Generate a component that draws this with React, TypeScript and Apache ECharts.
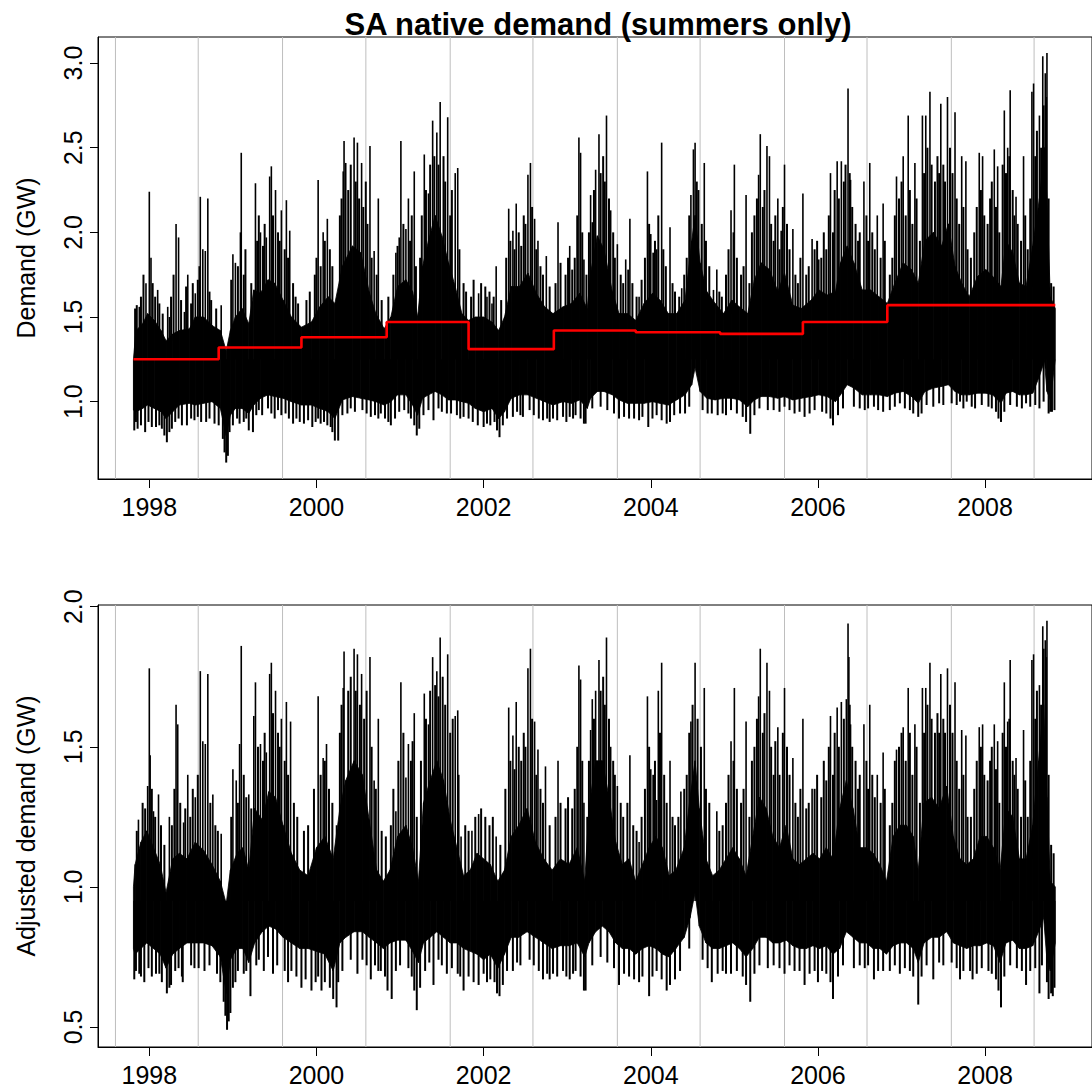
import React, { useEffect, useRef } from "react";
import * as echarts from "echarts";

// ---------- axes ----------
const X_MIN = 1997.386;
const X_MAX = 2009.279;
const yearTicks = [1998, 2000, 2002, 2004, 2006, 2008];
const augustLines = [1997.595, 1998.585, 1999.594, 2000.591, 2001.6, 2002.59, 2003.6, 2004.59, 2005.6, 2006.587, 2007.596, 2008.586];
const topYTicks = [1.0, 1.5, 2.0, 2.5, 3.0];
const botYTicks = [0.5, 1.0, 1.5, 2.0];

// ---------- summer medians (red steps) ----------
const medianT = [1997.81, 1998.83, 1999.82, 2000.84, 2001.82, 2002.84, 2003.82, 2004.83, 2005.82, 2006.83, 2008.84];
const medianV = [1.25, 1.32, 1.38, 1.47, 1.31, 1.42, 1.41, 1.40, 1.47, 1.57, 1.57];

// ---------- top panel: dense core of demand ----------
const topBandT = [1997.81, 1997.84, 1997.92, 1997.98, 1998.06, 1998.14, 1998.2, 1998.28, 1998.36, 1998.48, 1998.55, 1998.65, 1998.75, 1998.85, 1998.92, 1998.97, 1999.03, 1999.11, 1999.19, 1999.25, 1999.33, 1999.42, 1999.5, 1999.6, 1999.7, 1999.82, 1999.94, 2000.04, 2000.14, 2000.22, 2000.31, 2000.43, 2000.53, 2000.63, 2000.71, 2000.81, 2000.89, 2000.97, 2001.07, 2001.15, 2001.21, 2001.27, 2001.34, 2001.42, 2001.5, 2001.58, 2001.66, 2001.74, 2001.82, 2001.9, 2002.0, 2002.1, 2002.18, 2002.25, 2002.33, 2002.43, 2002.53, 2002.63, 2002.73, 2002.83, 2002.95, 2003.05, 2003.15, 2003.24, 2003.28, 2003.36, 2003.44, 2003.54, 2003.62, 2003.72, 2003.82, 2003.92, 2004.02, 2004.11, 2004.21, 2004.31, 2004.41, 2004.49, 2004.53, 2004.59, 2004.67, 2004.77, 2004.87, 2004.97, 2005.06, 2005.16, 2005.24, 2005.32, 2005.42, 2005.52, 2005.6, 2005.7, 2005.8, 2005.92, 2006.01, 2006.11, 2006.21, 2006.27, 2006.35, 2006.43, 2006.53, 2006.63, 2006.73, 2006.83, 2006.92, 2007.02, 2007.12, 2007.2, 2007.28, 2007.38, 2007.48, 2007.56, 2007.64, 2007.72, 2007.81, 2007.91, 2008.01, 2008.09, 2008.19, 2008.25, 2008.33, 2008.41, 2008.49, 2008.57, 2008.65, 2008.71, 2008.74, 2008.78, 2008.84];
const topBandLo = [0.95, 0.94, 0.96, 0.98, 0.96, 0.94, 0.9, 0.94, 0.98, 0.99, 0.98, 0.99, 1.0, 0.96, 0.8, 0.92, 0.96, 0.96, 0.93, 0.98, 1.02, 1.04, 1.03, 1.02, 1.0, 0.98, 0.98, 0.96, 0.94, 0.9, 1.01, 1.03, 1.02, 1.01, 1.0, 0.98, 1.0, 1.04, 1.04, 0.98, 0.92, 1.02, 1.04, 1.06, 1.04, 1.01, 1.01, 1.0, 0.99, 0.96, 0.94, 0.96, 0.9, 0.94, 1.02, 1.04, 1.04, 1.02, 1.0, 0.98, 1.0, 0.99, 1.01, 0.96, 1.02, 1.06, 1.06, 1.04, 1.01, 0.99, 0.99, 0.99, 1.0, 0.99, 0.98, 1.01, 1.04, 1.1, 1.2, 1.06, 1.02, 1.01, 1.02, 1.02, 1.01, 0.97, 1.01, 1.03, 1.03, 1.02, 1.03, 1.01, 1.02, 1.03, 1.04, 1.03, 1.0, 1.04, 1.1, 1.08, 1.04, 1.04, 1.04, 1.03, 1.05, 1.06, 1.03, 0.99, 1.06, 1.08, 1.09, 1.1, 1.06, 1.04, 1.04, 1.05, 1.05, 1.04, 0.99, 1.05, 1.06, 1.04, 1.04, 1.05, 1.15, 1.24, 1.06, 1.01, 1.25];
const topBandHi = [1.25, 1.42, 1.46, 1.52, 1.48, 1.42, 1.36, 1.4, 1.42, 1.43, 1.5, 1.5, 1.45, 1.42, 1.3, 1.42, 1.5, 1.55, 1.46, 1.66, 1.64, 1.72, 1.7, 1.6, 1.5, 1.44, 1.47, 1.56, 1.62, 1.58, 1.8, 1.92, 1.88, 1.65, 1.52, 1.43, 1.5, 1.68, 1.72, 1.65, 1.5, 1.8, 1.95, 2.1, 1.98, 1.82, 1.68, 1.52, 1.48, 1.5, 1.5, 1.47, 1.42, 1.5, 1.68, 1.68, 1.76, 1.64, 1.56, 1.52, 1.56, 1.58, 1.64, 1.55, 1.76, 1.98, 1.9, 1.65, 1.52, 1.52, 1.48, 1.58, 1.64, 1.6, 1.52, 1.52, 1.6, 1.95, 2.1, 1.82, 1.65, 1.58, 1.52, 1.6, 1.56, 1.52, 1.72, 1.82, 1.78, 1.65, 1.76, 1.57, 1.55, 1.6, 1.66, 1.63, 1.65, 1.82, 1.92, 1.82, 1.66, 1.66, 1.62, 1.58, 1.7, 1.82, 1.78, 1.7, 1.95, 2.0, 1.92, 2.05, 1.8, 1.7, 1.62, 1.74, 1.78, 1.74, 1.68, 1.95, 1.88, 1.7, 1.68, 1.92, 2.2, 2.5, 2.2, 1.62, 1.55];

// top panel: tallest upward spikes (peak demand)
const topUpT = [1997.88, 1997.96, 1998.0, 1998.02, 1998.1, 1998.22, 1998.24, 1998.32, 1998.35, 1998.42, 1998.46, 1998.55, 1998.61, 1998.64, 1998.67, 1998.7, 1998.86, 1999.0, 1999.03, 1999.09, 1999.1, 1999.27, 1999.33, 1999.4, 1999.44, 1999.46, 1999.51, 1999.58, 1999.64, 1999.68, 2000.02, 2000.08, 2000.13, 2000.32, 2000.33, 2000.35, 2000.45, 2000.49, 2000.54, 2000.64, 2000.69, 2000.74, 2000.95, 2000.99, 2001.01, 2001.07, 2001.1, 2001.17, 2001.29, 2001.34, 2001.39, 2001.44, 2001.48, 2001.57, 2001.66, 2001.69, 2001.94, 2002.04, 2002.1, 2002.15, 2002.3, 2002.35, 2002.39, 2002.53, 2002.56, 2002.61, 2002.65, 2002.75, 2002.89, 2003.03, 2003.14, 2003.16, 2003.2, 2003.28, 2003.3, 2003.34, 2003.38, 2003.47, 2003.52, 2003.6, 2003.7, 2003.75, 2003.86, 2003.96, 2004.0, 2004.07, 2004.13, 2004.23, 2004.37, 2004.48, 2004.51, 2004.53, 2004.64, 2004.75, 2004.79, 2004.96, 2005.0, 2005.14, 2005.29, 2005.31, 2005.39, 2005.42, 2005.52, 2005.56, 2005.6, 2005.7, 2005.82, 2005.93, 2006.01, 2006.15, 2006.23, 2006.28, 2006.36, 2006.39, 2006.55, 2006.62, 2006.71, 2006.78, 2006.94, 2007.02, 2007.08, 2007.16, 2007.25, 2007.29, 2007.34, 2007.47, 2007.55, 2007.64, 2007.72, 2007.77, 2007.93, 2007.97, 2008.11, 2008.15, 2008.23, 2008.27, 2008.3, 2008.37, 2008.46, 2008.56, 2008.58, 2008.65, 2008.69, 2008.72, 2008.74];
const topUpV = [1.56, 1.7, 2.24, 1.85, 1.66, 1.56, 1.5, 2.05, 1.97, 1.53, 1.75, 1.64, 2.21, 1.9, 1.89, 2.2, 1.57, 1.87, 1.82, 2.0, 2.47, 2.29, 2.0, 1.97, 2.33, 2.39, 2.25, 2.13, 2.19, 2.01, 2.31, 2.0, 2.08, 2.36, 2.54, 2.41, 2.56, 2.53, 2.41, 2.51, 1.89, 2.2, 1.88, 1.97, 2.54, 2.02, 2.2, 2.36, 2.46, 2.23, 2.66, 2.59, 2.77, 2.68, 2.35, 2.38, 1.64, 1.62, 1.58, 1.8, 2.14, 2.01, 2.17, 2.34, 2.41, 2.08, 1.95, 1.86, 2.06, 1.92, 2.56, 2.47, 1.84, 2.22, 2.06, 2.37, 2.58, 2.69, 2.13, 1.93, 1.84, 2.08, 1.62, 2.36, 1.99, 1.9, 2.53, 2.03, 1.67, 2.22, 2.49, 2.53, 2.41, 1.66, 1.78, 2.13, 2.4, 2.22, 2.34, 2.58, 2.51, 2.45, 2.2, 2.01, 2.4, 2.02, 2.23, 1.96, 1.84, 2.35, 2.42, 2.42, 2.85, 2.31, 2.3, 2.41, 2.1, 2.17, 2.33, 2.45, 2.69, 2.41, 2.69, 2.69, 2.83, 2.76, 2.8, 2.71, 2.45, 2.42, 2.47, 2.45, 2.49, 2.39, 2.72, 2.5, 2.84, 2.21, 2.45, 2.83, 2.88, 2.69, 3.04, 2.94, 3.06];

// top panel: smaller upward spikes
const topMinorUpT = [1997.83, 1997.85, 1997.9, 1997.93, 1998.04, 1998.07, 1998.12, 1998.16, 1998.26, 1998.29, 1998.38, 1998.44, 1998.5, 1998.52, 1998.58, 1998.6, 1998.72, 1998.74, 1998.8, 1998.98, 1999.06, 1999.13, 1999.15, 1999.22, 1999.29, 1999.31, 1999.36, 1999.38, 1999.48, 1999.54, 1999.56, 1999.62, 1999.66, 1999.72, 1999.75, 1999.78, 1999.88, 1999.92, 1999.98, 2000.0, 2000.05, 2000.1, 2000.16, 2000.19, 2000.28, 2000.3, 2000.38, 2000.41, 2000.47, 2000.51, 2000.56, 2000.59, 2000.61, 2000.66, 2000.72, 2000.78, 2000.86, 2000.92, 2000.97, 2001.04, 2001.12, 2001.14, 2001.19, 2001.24, 2001.26, 2001.31, 2001.36, 2001.41, 2001.46, 2001.52, 2001.54, 2001.6, 2001.62, 2001.71, 2001.76, 2001.79, 2001.85, 2001.88, 2001.97, 2002.02, 2002.07, 2002.12, 2002.21, 2002.27, 2002.32, 2002.37, 2002.42, 2002.45, 2002.48, 2002.5, 2002.58, 2002.63, 2002.68, 2002.71, 2002.79, 2002.86, 2002.92, 2002.98, 2003.01, 2003.06, 2003.09, 2003.12, 2003.18, 2003.23, 2003.26, 2003.32, 2003.4, 2003.43, 2003.45, 2003.5, 2003.55, 2003.57, 2003.64, 2003.67, 2003.73, 2003.78, 2003.83, 2003.89, 2003.93, 2003.98, 2004.03, 2004.05, 2004.09, 2004.15, 2004.18, 2004.26, 2004.29, 2004.34, 2004.4, 2004.43, 2004.46, 2004.55, 2004.57, 2004.61, 2004.66, 2004.7, 2004.82, 2004.85, 2004.9, 2004.93, 2004.99, 2005.03, 2005.08, 2005.11, 2005.18, 2005.21, 2005.24, 2005.27, 2005.34, 2005.36, 2005.44, 2005.47, 2005.49, 2005.54, 2005.58, 2005.63, 2005.66, 2005.73, 2005.76, 2005.79, 2005.86, 2005.89, 2005.96, 2005.99, 2006.04, 2006.07, 2006.1, 2006.13, 2006.18, 2006.2, 2006.25, 2006.31, 2006.33, 2006.38, 2006.41, 2006.45, 2006.48, 2006.5, 2006.58, 2006.6, 2006.65, 2006.68, 2006.75, 2006.8, 2006.86, 2006.89, 2006.92, 2006.97, 2007.0, 2007.05, 2007.1, 2007.13, 2007.18, 2007.22, 2007.27, 2007.31, 2007.36, 2007.4, 2007.43, 2007.45, 2007.5, 2007.52, 2007.58, 2007.61, 2007.66, 2007.69, 2007.74, 2007.79, 2007.83, 2007.87, 2007.9, 2007.95, 2007.99, 2008.03, 2008.06, 2008.08, 2008.13, 2008.17, 2008.21, 2008.25, 2008.29, 2008.33, 2008.35, 2008.39, 2008.43, 2008.48, 2008.51, 2008.54, 2008.6, 2008.62, 2008.67, 2008.7, 2008.73, 2008.76, 2008.79, 2008.82];
const topMinorUpV = [1.55, 1.57, 1.62, 1.75, 1.7, 1.62, 1.58, 1.52, 1.62, 1.75, 1.6, 1.68, 1.58, 1.7, 1.72, 1.8, 1.65, 1.6, 1.55, 1.72, 1.8, 1.75, 1.9, 1.7, 1.95, 2.1, 1.92, 2.05, 2.1, 2.0, 1.95, 1.9, 1.85, 1.7, 1.62, 1.58, 1.6, 1.65, 1.75, 1.85, 1.8, 1.95, 1.9, 1.8, 2.1, 2.2, 2.25, 2.4, 2.3, 2.2, 2.15, 2.3, 2.05, 1.85, 1.75, 1.6, 1.62, 1.75, 1.92, 2.05, 1.95, 2.1, 1.8, 1.85, 2.1, 2.25, 2.4, 2.45, 2.4, 2.45, 2.3, 2.1, 2.25, 1.9, 1.7, 1.65, 1.62, 1.72, 1.7, 1.68, 1.65, 1.62, 1.6, 1.85, 1.95, 1.9, 2.0, 1.92, 2.1, 2.05, 2.15, 1.9, 1.8, 1.75, 1.68, 1.7, 1.82, 1.75, 1.85, 1.78, 1.85, 2.1, 2.0, 1.75, 2.0, 2.25, 2.35, 2.45, 2.3, 2.2, 2.0, 1.85, 1.75, 1.7, 1.78, 1.7, 1.62, 1.72, 1.85, 2.05, 1.88, 1.95, 2.1, 1.9, 1.8, 1.7, 1.65, 1.62, 1.75, 1.85, 2.1, 2.3, 2.25, 2.05, 1.95, 1.8, 1.65, 1.62, 1.75, 1.9, 2.0, 1.85, 1.75, 1.8, 1.7, 2.0, 2.1, 2.2, 2.15, 2.25, 2.05, 1.95, 2.1, 1.9, 2.15, 2.05, 1.9, 1.75, 1.7, 1.85, 1.75, 1.8, 1.9, 1.95, 1.85, 2.0, 1.9, 2.1, 2.0, 2.25, 2.2, 2.3, 2.4, 2.35, 2.15, 2.05, 1.95, 2.0, 2.1, 1.95, 2.0, 1.9, 1.85, 1.95, 1.75, 1.85, 2.1, 2.2, 2.3, 2.1, 2.25, 2.05, 2.2, 1.95, 2.35, 2.5, 2.4, 2.3, 2.45, 2.35, 2.4, 2.3, 2.5, 2.35, 2.2, 2.05, 2.15, 1.9, 1.85, 2.0, 2.15, 2.25, 2.1, 2.05, 2.2, 2.3, 2.15, 2.0, 2.4, 2.35, 2.45, 2.25, 2.1, 2.05, 1.95, 2.1, 1.9, 2.2, 2.45, 2.6, 2.5, 2.75, 2.8, 2.2, 1.7, 1.68];

// top panel: downward spikes (low demand)
const topDnT = [1997.82, 1997.84, 1997.86, 1997.9, 1997.95, 1997.99, 1998.03, 1998.08, 1998.12, 1998.15, 1998.18, 1998.21, 1998.24, 1998.27, 1998.31, 1998.35, 1998.39, 1998.45, 1998.5, 1998.54, 1998.58, 1998.62, 1998.68, 1998.72, 1998.78, 1998.83, 1998.88, 1998.9, 1998.92, 1998.94, 1998.96, 1999.0, 1999.05, 1999.08, 1999.13, 1999.16, 1999.19, 1999.24, 1999.28, 1999.31, 1999.35, 1999.42, 1999.46, 1999.5, 1999.54, 1999.58, 1999.63, 1999.67, 1999.72, 1999.76, 1999.8, 1999.85, 1999.9, 1999.95, 1999.99, 2000.02, 2000.05, 2000.09, 2000.13, 2000.17, 2000.19, 2000.22, 2000.26, 2000.31, 2000.37, 2000.41, 2000.46, 2000.55, 2000.6, 2000.65, 2000.7, 2000.74, 2000.77, 2000.82, 2000.86, 2000.89, 2000.94, 2000.99, 2001.05, 2001.1, 2001.13, 2001.17, 2001.2, 2001.23, 2001.28, 2001.34, 2001.4, 2001.46, 2001.5, 2001.56, 2001.61, 2001.68, 2001.72, 2001.76, 2001.82, 2001.87, 2001.93, 2002.0, 2002.04, 2002.08, 2002.13, 2002.16, 2002.19, 2002.23, 2002.28, 2002.35, 2002.4, 2002.44, 2002.47, 2002.55, 2002.6, 2002.66, 2002.71, 2002.76, 2002.79, 2002.83, 2002.88, 2002.95, 2002.99, 2003.03, 2003.07, 2003.1, 2003.16, 2003.2, 2003.22, 2003.3, 2003.4, 2003.48, 2003.56, 2003.62, 2003.68, 2003.74, 2003.8, 2003.86, 2003.9, 2003.97, 2004.02, 2004.07, 2004.13, 2004.19, 2004.23, 2004.28, 2004.35, 2004.41, 2004.46, 2004.62, 2004.68, 2004.73, 2004.8, 2004.86, 2004.9, 2004.96, 2005.03, 2005.1, 2005.14, 2005.19, 2005.24, 2005.3, 2005.4, 2005.47, 2005.54, 2005.6, 2005.66, 2005.72, 2005.78, 2005.84, 2005.9, 2005.96, 2006.05, 2006.1, 2006.15, 2006.18, 2006.24, 2006.3, 2006.43, 2006.5, 2006.56, 2006.6, 2006.67, 2006.72, 2006.78, 2006.86, 2006.92, 2006.98, 2007.04, 2007.1, 2007.14, 2007.2, 2007.24, 2007.3, 2007.38, 2007.45, 2007.5, 2007.6, 2007.66, 2007.7, 2007.74, 2007.78, 2007.84, 2007.88, 2007.96, 2008.04, 2008.08, 2008.13, 2008.16, 2008.19, 2008.23, 2008.3, 2008.38, 2008.44, 2008.49, 2008.54, 2008.6, 2008.65, 2008.7, 2008.76, 2008.78, 2008.8, 2008.83];
const topDnV = [0.83, 0.88, 0.84, 0.86, 0.82, 0.88, 0.85, 0.85, 0.86, 0.84, 0.8, 0.76, 0.82, 0.84, 0.88, 0.9, 0.86, 0.86, 0.9, 0.89, 0.91, 0.88, 0.88, 0.9, 0.87, 0.86, 0.78, 0.7, 0.64, 0.68, 0.82, 0.86, 0.9, 0.87, 0.88, 0.9, 0.83, 0.82, 0.92, 0.95, 0.92, 0.96, 0.93, 0.9, 0.95, 0.92, 0.93, 0.9, 0.87, 0.9, 0.88, 0.87, 0.89, 0.85, 0.88, 0.9, 0.87, 0.88, 0.86, 0.85, 0.82, 0.77, 0.77, 0.92, 0.93, 0.96, 0.94, 0.95, 0.93, 0.91, 0.92, 0.9, 0.93, 0.9, 0.88, 0.86, 0.9, 0.94, 0.95, 0.93, 0.9, 0.86, 0.8, 0.84, 0.92, 0.95, 0.89, 0.96, 0.94, 0.93, 0.93, 0.92, 0.9, 0.91, 0.9, 0.88, 0.86, 0.85, 0.87, 0.86, 0.88, 0.83, 0.79, 0.86, 0.9, 0.91, 0.94, 0.92, 0.91, 0.95, 0.92, 0.9, 0.89, 0.9, 0.88, 0.9, 0.89, 0.91, 0.88, 0.91, 0.9, 0.92, 0.9, 0.87, 0.87, 0.96, 0.97, 0.95, 0.93, 0.9, 0.91, 0.9, 0.9, 0.89, 0.91, 0.85, 0.9, 0.92, 0.89, 0.87, 0.88, 0.92, 0.93, 0.93, 0.97, 0.95, 0.93, 0.93, 0.92, 0.93, 0.92, 0.95, 0.93, 0.91, 0.88, 0.81, 0.92, 0.96, 0.95, 0.95, 0.94, 0.97, 0.95, 0.93, 0.94, 0.91, 0.93, 0.95, 0.94, 0.93, 0.9, 0.86, 0.92, 0.96, 0.97, 0.96, 0.95, 0.96, 0.97, 0.95, 0.94, 0.95, 0.97, 0.99, 0.96, 0.95, 0.93, 0.91, 0.93, 0.98, 0.97, 0.99, 0.98, 0.99, 0.98, 1.0, 0.96, 1.0, 0.97, 0.96, 0.98, 0.97, 0.96, 0.94, 0.9, 0.88, 0.94, 0.98, 0.97, 0.96, 0.99, 0.97, 0.98, 0.96, 1.0, 0.93, 0.94, 0.94, 0.95];

// ---------- bottom panel: adjusted demand ----------
const botBandT = [1997.81, 1997.83, 1997.9, 1997.97, 1998.05, 1998.13, 1998.2, 1998.28, 1998.36, 1998.45, 1998.55, 1998.65, 1998.75, 1998.85, 1998.92, 1998.97, 1999.05, 1999.12, 1999.19, 1999.26, 1999.35, 1999.43, 1999.51, 1999.6, 1999.7, 1999.8, 1999.9, 2000.0, 2000.1, 2000.2, 2000.28, 2000.35, 2000.45, 2000.55, 2000.63, 2000.72, 2000.8, 2000.88, 2000.97, 2001.07, 2001.15, 2001.22, 2001.28, 2001.36, 2001.44, 2001.52, 2001.6, 2001.68, 2001.76, 2001.84, 2001.92, 2002.0, 2002.08, 2002.17, 2002.25, 2002.33, 2002.42, 2002.52, 2002.62, 2002.72, 2002.82, 2002.92, 2003.02, 2003.12, 2003.21, 2003.26, 2003.34, 2003.42, 2003.5, 2003.58, 2003.66, 2003.74, 2003.82, 2003.9, 2003.98, 2004.06, 2004.14, 2004.22, 2004.3, 2004.4, 2004.47, 2004.53, 2004.58, 2004.66, 2004.74, 2004.82, 2004.9, 2004.98, 2005.06, 2005.14, 2005.22, 2005.3, 2005.38, 2005.46, 2005.54, 2005.62, 2005.7, 2005.78, 2005.86, 2005.94, 2006.02, 2006.1, 2006.18, 2006.26, 2006.34, 2006.42, 2006.5, 2006.58, 2006.66, 2006.74, 2006.82, 2006.9, 2006.98, 2007.06, 2007.14, 2007.2, 2007.27, 2007.36, 2007.45, 2007.54, 2007.62, 2007.7, 2007.78, 2007.86, 2007.94, 2008.02, 2008.1, 2008.18, 2008.25, 2008.33, 2008.41, 2008.49, 2008.57, 2008.64, 2008.7, 2008.74, 2008.78, 2008.84];
const botBandLo = [0.78, 0.76, 0.78, 0.8, 0.78, 0.76, 0.71, 0.76, 0.78, 0.8, 0.8, 0.8, 0.79, 0.75, 0.62, 0.74, 0.78, 0.78, 0.73, 0.8, 0.84, 0.86, 0.85, 0.82, 0.8, 0.78, 0.78, 0.77, 0.76, 0.7, 0.8, 0.82, 0.84, 0.84, 0.82, 0.8, 0.78, 0.8, 0.81, 0.81, 0.77, 0.73, 0.8, 0.82, 0.84, 0.82, 0.8, 0.8, 0.78, 0.77, 0.76, 0.74, 0.76, 0.71, 0.76, 0.82, 0.82, 0.84, 0.82, 0.8, 0.78, 0.79, 0.79, 0.8, 0.75, 0.8, 0.84, 0.86, 0.84, 0.8, 0.78, 0.78, 0.76, 0.78, 0.79, 0.78, 0.76, 0.75, 0.78, 0.82, 0.89, 0.98, 0.86, 0.8, 0.78, 0.78, 0.79, 0.8, 0.78, 0.75, 0.78, 0.82, 0.82, 0.8, 0.8, 0.81, 0.79, 0.78, 0.78, 0.79, 0.78, 0.79, 0.76, 0.78, 0.84, 0.82, 0.8, 0.8, 0.78, 0.78, 0.76, 0.79, 0.8, 0.8, 0.78, 0.73, 0.8, 0.82, 0.82, 0.84, 0.8, 0.79, 0.78, 0.79, 0.79, 0.8, 0.79, 0.73, 0.8, 0.81, 0.78, 0.78, 0.79, 0.84, 0.89, 0.74, 0.7, 0.8];
const botBandHi = [1.0, 1.08, 1.16, 1.2, 1.14, 1.08, 0.98, 1.1, 1.12, 1.1, 1.16, 1.13, 1.08, 1.02, 0.94, 1.06, 1.12, 1.14, 1.06, 1.28, 1.24, 1.34, 1.32, 1.22, 1.12, 1.06, 1.04, 1.14, 1.18, 1.1, 1.28, 1.38, 1.45, 1.4, 1.24, 1.06, 1.02, 1.06, 1.18, 1.22, 1.14, 1.02, 1.3, 1.38, 1.45, 1.38, 1.24, 1.14, 1.04, 1.06, 1.12, 1.1, 1.08, 1.02, 1.06, 1.18, 1.22, 1.28, 1.16, 1.1, 1.06, 1.1, 1.08, 1.14, 1.02, 1.28, 1.45, 1.45, 1.32, 1.16, 1.08, 1.1, 1.02, 1.08, 1.14, 1.18, 1.14, 1.04, 1.06, 1.14, 1.32, 1.45, 1.28, 1.1, 1.04, 1.06, 1.1, 1.14, 1.1, 1.04, 1.18, 1.32, 1.28, 1.18, 1.14, 1.22, 1.1, 1.08, 1.1, 1.12, 1.1, 1.14, 1.1, 1.28, 1.38, 1.28, 1.14, 1.14, 1.12, 1.08, 1.02, 1.18, 1.22, 1.22, 1.18, 1.06, 1.3, 1.32, 1.28, 1.36, 1.18, 1.1, 1.08, 1.1, 1.18, 1.18, 1.14, 1.06, 1.28, 1.25, 1.1, 1.1, 1.22, 1.45, 1.65, 1.32, 1.02, 1.0];

const botUpT = [1997.87, 1997.98, 1998.0, 1998.01, 1998.05, 1998.11, 1998.24, 1998.32, 1998.34, 1998.41, 1998.46, 1998.55, 1998.61, 1998.64, 1998.67, 1998.7, 1998.76, 1998.86, 1999.0, 1999.04, 1999.08, 1999.1, 1999.19, 1999.25, 1999.27, 1999.33, 1999.4, 1999.44, 1999.46, 1999.51, 1999.58, 1999.64, 1999.69, 2000.02, 2000.08, 2000.12, 2000.24, 2000.32, 2000.33, 2000.45, 2000.49, 2000.54, 2000.64, 2000.69, 2000.74, 2000.95, 2001.01, 2001.07, 2001.1, 2001.17, 2001.29, 2001.34, 2001.39, 2001.44, 2001.48, 2001.57, 2001.66, 2001.69, 2001.73, 2001.86, 2001.94, 2002.15, 2002.3, 2002.35, 2002.39, 2002.53, 2002.56, 2002.61, 2002.65, 2002.74, 2002.89, 2003.14, 2003.16, 2003.2, 2003.28, 2003.3, 2003.34, 2003.38, 2003.47, 2003.52, 2003.6, 2003.75, 2003.86, 2003.96, 2004.0, 2004.07, 2004.09, 2004.13, 2004.23, 2004.36, 2004.48, 2004.53, 2004.64, 2004.79, 2004.96, 2005.0, 2005.14, 2005.29, 2005.31, 2005.39, 2005.42, 2005.52, 2005.6, 2005.7, 2005.82, 2005.93, 2006.15, 2006.23, 2006.28, 2006.34, 2006.36, 2006.37, 2006.39, 2006.55, 2006.62, 2006.71, 2006.78, 2006.94, 2007.02, 2007.08, 2007.16, 2007.25, 2007.29, 2007.34, 2007.47, 2007.55, 2007.64, 2007.72, 2007.77, 2007.93, 2007.97, 2008.11, 2008.15, 2008.23, 2008.27, 2008.3, 2008.37, 2008.46, 2008.56, 2008.58, 2008.65, 2008.69, 2008.72, 2008.74];
const botUpV = [1.24, 1.36, 1.78, 1.47, 1.27, 1.33, 1.25, 1.65, 1.58, 1.23, 1.4, 1.32, 1.77, 1.52, 1.51, 1.76, 1.33, 1.19, 1.42, 1.38, 1.51, 1.86, 1.33, 1.61, 1.73, 1.51, 1.48, 1.76, 1.8, 1.7, 1.6, 1.66, 1.59, 1.68, 1.46, 1.51, 1.22, 1.71, 1.84, 1.85, 1.83, 1.76, 1.82, 1.38, 1.6, 1.27, 1.73, 1.39, 1.51, 1.62, 1.69, 1.58, 1.82, 1.77, 1.89, 1.83, 1.61, 1.63, 1.18, 1.2, 1.26, 1.18, 1.64, 1.54, 1.66, 1.78, 1.85, 1.59, 1.49, 1.43, 1.45, 1.79, 1.74, 1.3, 1.56, 1.67, 1.7, 1.81, 1.89, 1.5, 1.36, 1.47, 1.16, 1.68, 1.42, 1.31, 1.7, 1.8, 1.45, 1.34, 1.59, 1.8, 1.71, 1.27, 1.52, 1.71, 1.59, 1.68, 1.85, 1.8, 1.7, 1.57, 1.71, 1.46, 1.6, 1.35, 1.61, 1.64, 1.66, 1.67, 1.94, 1.82, 1.58, 1.58, 1.65, 1.4, 1.48, 1.49, 1.57, 1.71, 1.58, 1.71, 1.71, 1.8, 1.76, 1.78, 1.73, 1.56, 1.54, 1.57, 1.58, 1.58, 1.52, 1.73, 1.59, 1.81, 1.46, 1.56, 1.81, 1.83, 1.72, 1.93, 1.88, 1.95];

const botMinorUpT = [1997.85, 1997.92, 1997.95, 1998.03, 1998.07, 1998.14, 1998.18, 1998.27, 1998.3, 1998.37, 1998.43, 1998.49, 1998.52, 1998.58, 1998.73, 1998.79, 1998.82, 1998.98, 1999.06, 1999.13, 1999.16, 1999.22, 1999.3, 1999.36, 1999.38, 1999.48, 1999.54, 1999.56, 1999.62, 1999.66, 1999.73, 1999.77, 1999.85, 1999.9, 1999.97, 2000.05, 2000.1, 2000.15, 2000.19, 2000.28, 2000.3, 2000.38, 2000.41, 2000.47, 2000.52, 2000.57, 2000.6, 2000.66, 2000.71, 2000.78, 2000.83, 2000.89, 2000.92, 2000.98, 2001.04, 2001.13, 2001.15, 2001.2, 2001.25, 2001.31, 2001.36, 2001.42, 2001.46, 2001.51, 2001.54, 2001.6, 2001.63, 2001.7, 2001.78, 2001.82, 2001.9, 2001.97, 2002.02, 2002.07, 2002.11, 2002.2, 2002.26, 2002.32, 2002.37, 2002.42, 2002.45, 2002.48, 2002.5, 2002.58, 2002.63, 2002.68, 2002.71, 2002.79, 2002.86, 2002.92, 2002.98, 2003.01, 2003.06, 2003.09, 2003.12, 2003.18, 2003.24, 2003.26, 2003.32, 2003.4, 2003.43, 2003.45, 2003.5, 2003.55, 2003.57, 2003.64, 2003.67, 2003.72, 2003.79, 2003.83, 2003.89, 2003.93, 2003.98, 2004.03, 2004.05, 2004.11, 2004.16, 2004.19, 2004.26, 2004.29, 2004.33, 2004.4, 2004.43, 2004.46, 2004.5, 2004.56, 2004.6, 2004.66, 2004.7, 2004.82, 2004.86, 2004.9, 2004.93, 2004.99, 2005.03, 2005.08, 2005.11, 2005.18, 2005.21, 2005.24, 2005.27, 2005.34, 2005.36, 2005.44, 2005.47, 2005.49, 2005.54, 2005.58, 2005.63, 2005.66, 2005.73, 2005.76, 2005.79, 2005.86, 2005.89, 2005.96, 2005.99, 2006.04, 2006.07, 2006.1, 2006.13, 2006.18, 2006.2, 2006.25, 2006.31, 2006.38, 2006.41, 2006.45, 2006.48, 2006.5, 2006.58, 2006.6, 2006.65, 2006.68, 2006.75, 2006.8, 2006.86, 2006.89, 2006.92, 2006.97, 2007.0, 2007.05, 2007.1, 2007.13, 2007.18, 2007.22, 2007.27, 2007.31, 2007.36, 2007.4, 2007.43, 2007.45, 2007.5, 2007.52, 2007.58, 2007.61, 2007.66, 2007.69, 2007.74, 2007.79, 2007.83, 2007.87, 2007.9, 2007.95, 2007.99, 2008.03, 2008.06, 2008.08, 2008.13, 2008.17, 2008.21, 2008.25, 2008.29, 2008.33, 2008.35, 2008.39, 2008.43, 2008.48, 2008.51, 2008.54, 2008.6, 2008.62, 2008.67, 2008.7, 2008.73, 2008.76, 2008.79, 2008.82];
const botMinorUpV = [1.2, 1.3, 1.28, 1.35, 1.25, 1.22, 1.15, 1.22, 1.35, 1.3, 1.28, 1.25, 1.35, 1.4, 1.3, 1.22, 1.2, 1.25, 1.3, 1.4, 1.32, 1.28, 1.5, 1.45, 1.55, 1.62, 1.55, 1.5, 1.45, 1.4, 1.3, 1.25, 1.2, 1.22, 1.35, 1.4, 1.45, 1.35, 1.3, 1.55, 1.65, 1.7, 1.75, 1.7, 1.65, 1.6, 1.7, 1.5, 1.35, 1.2, 1.18, 1.22, 1.35, 1.45, 1.55, 1.45, 1.52, 1.25, 1.45, 1.6, 1.7, 1.72, 1.68, 1.75, 1.65, 1.55, 1.6, 1.4, 1.22, 1.2, 1.25, 1.28, 1.25, 1.22, 1.25, 1.15, 1.35, 1.45, 1.42, 1.5, 1.45, 1.55, 1.5, 1.6, 1.4, 1.35, 1.3, 1.22, 1.25, 1.3, 1.28, 1.32, 1.28, 1.35, 1.5, 1.45, 1.25, 1.45, 1.6, 1.7, 1.75, 1.65, 1.6, 1.45, 1.4, 1.3, 1.25, 1.3, 1.22, 1.2, 1.25, 1.35, 1.5, 1.4, 1.45, 1.55, 1.4, 1.3, 1.25, 1.22, 1.25, 1.35, 1.4, 1.55, 1.65, 1.6, 1.5, 1.35, 1.3, 1.2, 1.22, 1.3, 1.4, 1.45, 1.35, 1.3, 1.35, 1.25, 1.45, 1.5, 1.6, 1.55, 1.62, 1.5, 1.4, 1.52, 1.4, 1.55, 1.5, 1.4, 1.3, 1.25, 1.35, 1.28, 1.3, 1.35, 1.4, 1.32, 1.45, 1.38, 1.5, 1.4, 1.55, 1.5, 1.6, 1.65, 1.5, 1.45, 1.35, 1.4, 1.45, 1.35, 1.4, 1.32, 1.3, 1.35, 1.22, 1.3, 1.45, 1.5, 1.55, 1.45, 1.55, 1.4, 1.5, 1.3, 1.55, 1.65, 1.6, 1.55, 1.62, 1.55, 1.6, 1.55, 1.65, 1.55, 1.45, 1.35, 1.4, 1.25, 1.25, 1.35, 1.45, 1.5, 1.4, 1.38, 1.45, 1.5, 1.42, 1.3, 1.55, 1.5, 1.6, 1.45, 1.4, 1.35, 1.25, 1.38, 1.25, 1.45, 1.6, 1.7, 1.65, 1.85, 1.82, 1.4, 1.15, 1.12];

const botDnT = [1997.82, 1997.84, 1997.88, 1997.9, 1997.94, 1997.99, 1998.03, 1998.08, 1998.12, 1998.15, 1998.21, 1998.24, 1998.26, 1998.31, 1998.35, 1998.39, 1998.4, 1998.5, 1998.54, 1998.59, 1998.66, 1998.72, 1998.81, 1998.85, 1998.89, 1998.91, 1998.93, 1998.95, 1998.97, 1999.0, 1999.03, 1999.06, 1999.13, 1999.16, 1999.21, 1999.28, 1999.31, 1999.37, 1999.42, 1999.48, 1999.53, 1999.62, 1999.66, 1999.7, 1999.76, 1999.82, 1999.87, 1999.94, 1999.99, 2000.02, 2000.06, 2000.1, 2000.16, 2000.2, 2000.24, 2000.26, 2000.31, 2000.41, 2000.49, 2000.55, 2000.6, 2000.65, 2000.7, 2000.74, 2000.77, 2000.82, 2000.85, 2000.9, 2000.95, 2001.0, 2001.1, 2001.14, 2001.17, 2001.2, 2001.24, 2001.3, 2001.35, 2001.4, 2001.46, 2001.5, 2001.56, 2001.62, 2001.69, 2001.72, 2001.76, 2001.82, 2001.88, 2001.94, 2002.0, 2002.04, 2002.08, 2002.13, 2002.16, 2002.19, 2002.23, 2002.28, 2002.35, 2002.4, 2002.44, 2002.55, 2002.6, 2002.66, 2002.71, 2002.76, 2002.79, 2002.83, 2002.88, 2002.95, 2002.99, 2003.03, 2003.07, 2003.1, 2003.16, 2003.2, 2003.22, 2003.3, 2003.4, 2003.48, 2003.56, 2003.62, 2003.68, 2003.74, 2003.8, 2003.86, 2003.9, 2003.98, 2004.02, 2004.07, 2004.13, 2004.19, 2004.23, 2004.29, 2004.35, 2004.46, 2004.62, 2004.68, 2004.73, 2004.8, 2004.86, 2004.9, 2004.96, 2005.03, 2005.1, 2005.14, 2005.19, 2005.24, 2005.3, 2005.4, 2005.47, 2005.54, 2005.6, 2005.66, 2005.72, 2005.78, 2005.84, 2005.9, 2005.96, 2006.0, 2006.05, 2006.1, 2006.15, 2006.18, 2006.24, 2006.3, 2006.43, 2006.5, 2006.56, 2006.6, 2006.67, 2006.72, 2006.78, 2006.86, 2006.92, 2006.98, 2007.04, 2007.1, 2007.14, 2007.2, 2007.24, 2007.3, 2007.38, 2007.45, 2007.5, 2007.6, 2007.66, 2007.7, 2007.74, 2007.82, 2007.85, 2007.9, 2007.96, 2008.04, 2008.08, 2008.13, 2008.16, 2008.19, 2008.23, 2008.3, 2008.38, 2008.44, 2008.49, 2008.54, 2008.6, 2008.65, 2008.68, 2008.74, 2008.76, 2008.79, 2008.81, 2008.83];
const botDnV = [0.67, 0.7, 0.69, 0.68, 0.66, 0.71, 0.68, 0.69, 0.69, 0.66, 0.62, 0.64, 0.65, 0.7, 0.71, 0.68, 0.66, 0.72, 0.71, 0.71, 0.7, 0.72, 0.69, 0.66, 0.59, 0.54, 0.49, 0.52, 0.55, 0.64, 0.66, 0.7, 0.69, 0.7, 0.61, 0.72, 0.74, 0.7, 0.75, 0.69, 0.72, 0.7, 0.66, 0.7, 0.68, 0.64, 0.67, 0.63, 0.66, 0.68, 0.63, 0.66, 0.64, 0.6, 0.57, 0.66, 0.7, 0.74, 0.69, 0.74, 0.72, 0.67, 0.72, 0.7, 0.7, 0.68, 0.63, 0.6, 0.7, 0.72, 0.71, 0.68, 0.63, 0.56, 0.64, 0.7, 0.73, 0.65, 0.74, 0.72, 0.69, 0.71, 0.69, 0.68, 0.63, 0.68, 0.66, 0.65, 0.69, 0.66, 0.67, 0.66, 0.62, 0.61, 0.65, 0.7, 0.7, 0.73, 0.72, 0.74, 0.72, 0.7, 0.67, 0.69, 0.67, 0.69, 0.68, 0.7, 0.68, 0.67, 0.69, 0.7, 0.68, 0.63, 0.63, 0.72, 0.75, 0.73, 0.71, 0.65, 0.69, 0.68, 0.67, 0.66, 0.68, 0.61, 0.68, 0.7, 0.67, 0.63, 0.65, 0.67, 0.7, 0.78, 0.74, 0.71, 0.66, 0.69, 0.7, 0.69, 0.69, 0.7, 0.68, 0.65, 0.59, 0.69, 0.72, 0.71, 0.72, 0.71, 0.69, 0.72, 0.7, 0.7, 0.65, 0.69, 0.7, 0.66, 0.7, 0.69, 0.66, 0.6, 0.68, 0.72, 0.71, 0.72, 0.71, 0.72, 0.67, 0.7, 0.7, 0.7, 0.72, 0.69, 0.71, 0.7, 0.68, 0.58, 0.68, 0.72, 0.67, 0.73, 0.72, 0.73, 0.71, 0.67, 0.7, 0.7, 0.67, 0.69, 0.71, 0.7, 0.69, 0.67, 0.63, 0.57, 0.68, 0.72, 0.71, 0.7, 0.65, 0.7, 0.71, 0.62, 0.72, 0.66, 0.6, 0.62, 0.61, 0.64];

const TOP_SPIKE_BASE = 1.25;
const BOT_SPIKE_BASE = 0.95;
const FONT = "Liberation Sans, Arial, sans-serif";

function bandSeries(idx: number, T: number[], LO: number[], HI: number[]) {
  const data = T.slice(0, -1).map((t, i) => [t, LO[i], HI[i], T[i + 1], LO[i + 1], HI[i + 1]]);
  return {
    type: "custom",
    xAxisIndex: idx,
    yAxisIndex: idx,
    z: 3,
    silent: true,
    data,
    encode: { x: [0, 3], y: [1, 2, 4, 5] },
    renderItem: (params: any, api: any) => {
      const a = api.coord([api.value(0), api.value(1)]);
      const b = api.coord([api.value(3), api.value(4)]);
      const c = api.coord([api.value(3), api.value(5)]);
      const d = api.coord([api.value(0), api.value(2)]);
      return {
        type: "polygon",
        shape: { points: [a, b, c, d] },
        style: { fill: "#000", stroke: "#000", lineWidth: 0.8 },
      };
    },
  };
}

function spikeSeries(idx: number, T: number[], V: number[], base: number, width: number) {
  const data = T.map((t, i) => [t, base, V[i]]);
  return {
    type: "custom",
    xAxisIndex: idx,
    yAxisIndex: idx,
    z: 4,
    silent: true,
    data,
    encode: { x: 0, y: [1, 2] },
    renderItem: (params: any, api: any) => {
      const a = api.coord([api.value(0), api.value(1)]);
      const b = api.coord([api.value(0), api.value(2)]);
      return {
        type: "line",
        shape: { x1: a[0], y1: a[1], x2: b[0], y2: b[1] },
        style: { stroke: "#000", lineWidth: width },
      };
    },
  };
}

function gridLineSeries(idx: number, yRef: number) {
  return {
    type: "custom",
    xAxisIndex: idx,
    yAxisIndex: idx,
    z: 1,
    silent: true,
    data: augustLines.map((t) => [t, yRef]),
    encode: { x: 0, y: 1 },
    renderItem: (params: any, api: any) => {
      const cs = params.coordSys;
      const p = api.coord([api.value(0), api.value(1)]);
      return {
        type: "line",
        shape: { x1: p[0], y1: cs.y, x2: p[0], y2: cs.y + cs.height },
        style: { stroke: "#bebebe", lineWidth: 1 },
      };
    },
  };
}

function xAxisCfg(idx: number) {
  return {
    type: "value",
    gridIndex: idx,
    min: X_MIN,
    max: X_MAX,
    axisLine: { show: true, lineStyle: { color: "#000", width: 1 } },
    axisTick: { show: true, customValues: yearTicks, length: 9, lineStyle: { color: "#000", width: 1 } },
    axisLabel: { customValues: yearTicks, fontSize: 25, color: "#000", fontFamily: FONT, margin: 15, formatter: (v: number) => String(Math.round(v)) },
    splitLine: { show: false },
  };
}

function yAxisCfg(idx: number, min: number, max: number, ticks: number[], name: string) {
  return {
    type: "value",
    gridIndex: idx,
    min,
    max,
    name,
    nameLocation: "middle",
    nameGap: 60,
    nameRotate: 90,
    nameTextStyle: { fontSize: 25, color: "#000", fontFamily: FONT },
    axisLine: { show: true, lineStyle: { color: "#000", width: 1 } },
    axisTick: { show: true, customValues: ticks, length: 8, lineStyle: { color: "#000", width: 1 } },
    axisLabel: { customValues: ticks, rotate: 90, fontSize: 25, color: "#000", fontFamily: FONT, margin: 13, formatter: (v: number) => v.toFixed(1) },
    splitLine: { show: false },
  };
}

export default function App() {
  const ref = useRef<HTMLDivElement>(null);
  useEffect(() => {
    if (!ref.current) return;
    const chart = echarts.init(ref.current, null, { renderer: "svg" });
    const medianData = medianT.map((t, i) => [t, medianV[i]]);
    chart.setOption({
      animation: false,
      backgroundColor: "#fff",
      grid: [
        { left: 98, top: 37, width: 1002, height: 442, show: true, borderColor: "#000", borderWidth: 1, backgroundColor: "transparent" },
        { left: 98, top: 605, width: 1002, height: 442, show: true, borderColor: "#000", borderWidth: 1, backgroundColor: "transparent" },
      ],
      xAxis: [xAxisCfg(0), xAxisCfg(1)],
      yAxis: [
        yAxisCfg(0, 0.543, 3.154, topYTicks, "Demand (GW)"),
        yAxisCfg(1, 0.4286, 2.006, botYTicks, "Adjusted demand (GW)"),
      ],
      graphic: [
        {
          type: "text",
          x: 598,
          y: 9,
          style: {
            text: "SA native demand (summers only)",
            fontSize: 31,
            fontWeight: "bold",
            fontFamily: FONT,
            fill: "#000",
            align: "center",
            verticalAlign: "top",
            textAlign: "center",
            textVerticalAlign: "top",
          },
          z: 10,
        },
      ],
      series: [
        gridLineSeries(0, 1.0),
        gridLineSeries(1, 1.0),
        bandSeries(0, topBandT, topBandLo, topBandHi),
        spikeSeries(0, topMinorUpT, topMinorUpV, TOP_SPIKE_BASE, 2.0),
        spikeSeries(0, topUpT, topUpV, TOP_SPIKE_BASE, 1.6),
        spikeSeries(0, topDnT, topDnV, TOP_SPIKE_BASE, 2.0),
        {
          type: "line",
          xAxisIndex: 0,
          yAxisIndex: 0,
          data: medianData,
          step: "end",
          symbol: "none",
          z: 6,
          silent: true,
          lineStyle: { color: "#ff0000", width: 2.6 },
        },
        bandSeries(1, botBandT, botBandLo, botBandHi),
        spikeSeries(1, botMinorUpT, botMinorUpV, BOT_SPIKE_BASE, 2.0),
        spikeSeries(1, botUpT, botUpV, BOT_SPIKE_BASE, 1.6),
        spikeSeries(1, botDnT, botDnV, BOT_SPIKE_BASE, 2.0),
      ],
    });
    return () => chart.dispose();
  }, []);
  return <div ref={ref} style={{ position: "fixed", left: 0, top: 0, width: 1092, height: 1090 }} />;
}
